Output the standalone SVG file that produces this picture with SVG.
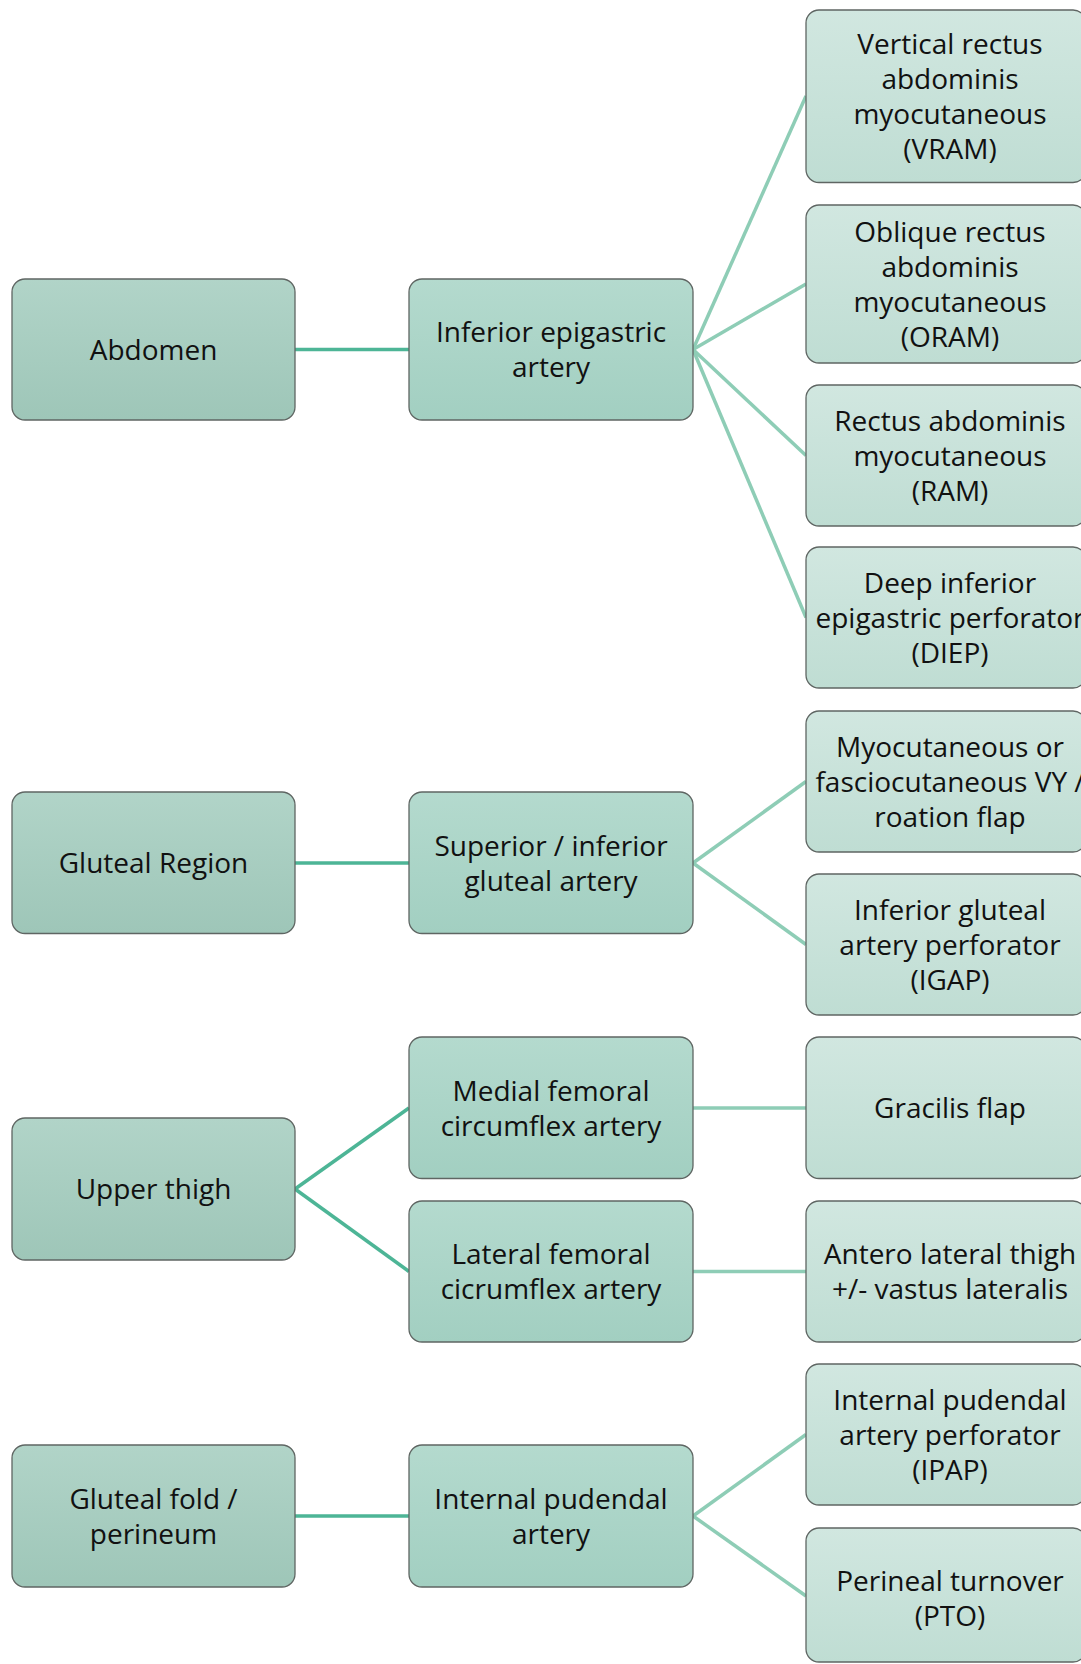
<svg xmlns="http://www.w3.org/2000/svg" width="1081" height="1664" viewBox="0 0 1081 1664">
<defs>
<linearGradient id="g1" x1="0" y1="0" x2="0" y2="1"><stop offset="0" stop-color="#b1d4c8"/><stop offset="1" stop-color="#9ec6b8"/></linearGradient>
<linearGradient id="g2" x1="0" y1="0" x2="0" y2="1"><stop offset="0" stop-color="#b4dace"/><stop offset="1" stop-color="#a2cfc1"/></linearGradient>
<linearGradient id="g3" x1="0" y1="0" x2="0" y2="1"><stop offset="0" stop-color="#d1e7e0"/><stop offset="1" stop-color="#bfddd3"/></linearGradient>
<style>
.b{stroke:#5f6663;stroke-width:1.3}
.c1{fill:url(#g1)}.c2{fill:url(#g2)}.c3{fill:url(#g3)}
text{font-family:"Open Sans","Liberation Sans",sans-serif;font-size:28px;fill:#111;text-anchor:middle}
.dk{stroke:#4db596;stroke-width:3.5;fill:none}
.lt{stroke:#8ecdb6;stroke-width:3.5;fill:none}
</style>
</defs>
<rect width="1081" height="1664" fill="#fff"/>
<g id="connectors">
<line class="dk" x1="295" y1="349.5" x2="409" y2="349.5"/>
<line class="dk" x1="295" y1="863" x2="409" y2="863"/>
<line class="dk" x1="295" y1="1189" x2="409" y2="1108"/>
<line class="dk" x1="295" y1="1189" x2="409" y2="1271.5"/>
<line class="dk" x1="295" y1="1516" x2="409" y2="1516"/>
<line class="lt" x1="693" y1="349.5" x2="806" y2="96"/>
<line class="lt" x1="693" y1="349.5" x2="806" y2="284"/>
<line class="lt" x1="693" y1="349.5" x2="806" y2="455.5"/>
<line class="lt" x1="693" y1="349.5" x2="806" y2="617.5"/>
<line class="lt" x1="693" y1="863" x2="806" y2="781.5"/>
<line class="lt" x1="693" y1="863" x2="806" y2="944.5"/>
<line class="lt" x1="693" y1="1108" x2="806" y2="1108"/>
<line class="lt" x1="693" y1="1271.5" x2="806" y2="1271.5"/>
<line class="lt" x1="693" y1="1516" x2="806" y2="1434.5"/>
<line class="lt" x1="693" y1="1516" x2="806" y2="1596"/>
</g>
<g id="abdomen"><rect class="b c1" x="12" y="279" width="283" height="141" rx="13"/><text x="153.5" y="359.5">Abdomen</text></g>
<g id="gluteal-region"><rect class="b c1" x="12" y="792" width="283" height="141.5" rx="13"/><text x="153.5" y="873">Gluteal Region</text></g>
<g id="upper-thigh"><rect class="b c1" x="12" y="1118" width="283" height="142" rx="13"/><text x="153.5" y="1199">Upper thigh</text></g>
<g id="gluteal-fold"><rect class="b c1" x="12" y="1445" width="283" height="142" rx="13"/><text x="153.5" y="1508.5">Gluteal fold /</text><text x="153.5" y="1543.5">perineum</text></g>
<g id="inferior-epigastric"><rect class="b c2" x="409" y="279" width="284" height="141" rx="13"/><text x="551" y="342">Inferior epigastric</text><text x="551" y="377">artery</text></g>
<g id="superior-inferior-gluteal"><rect class="b c2" x="409" y="792" width="284" height="141.5" rx="13"/><text x="551" y="855.5">Superior / inferior</text><text x="551" y="890.5">gluteal artery</text></g>
<g id="medial-femoral"><rect class="b c2" x="409" y="1037" width="284" height="141.5" rx="13"/><text x="551" y="1100.5">Medial femoral</text><text x="551" y="1135.5">circumflex artery</text></g>
<g id="lateral-femoral"><rect class="b c2" x="409" y="1201" width="284" height="141" rx="13"/><text x="551" y="1264">Lateral femoral</text><text x="551" y="1299">cicrumflex artery</text></g>
<g id="internal-pudendal"><rect class="b c2" x="409" y="1445" width="284" height="142" rx="13"/><text x="551" y="1508.5">Internal pudendal</text><text x="551" y="1543.5">artery</text></g>
<g id="vram"><rect class="b c3" x="806" y="10" width="280" height="172.5" rx="13"/><text x="950" y="53.5">Vertical rectus</text><text x="950" y="88.5">abdominis</text><text x="950" y="123.5">myocutaneous</text><text x="950" y="158.5">(VRAM)</text></g>
<g id="oram"><rect class="b c3" x="806" y="205" width="280" height="158" rx="13"/><text x="950" y="241.5">Oblique rectus</text><text x="950" y="276.5">abdominis</text><text x="950" y="311.5">myocutaneous</text><text x="950" y="346.5">(ORAM)</text></g>
<g id="ram"><rect class="b c3" x="806" y="385" width="280" height="141" rx="13"/><text x="950" y="430.5">Rectus abdominis</text><text x="950" y="465.5">myocutaneous</text><text x="950" y="500.5">(RAM)</text></g>
<g id="diep"><rect class="b c3" x="806" y="547" width="280" height="141" rx="13"/><text x="950" y="592.5">Deep inferior</text><text x="950" y="627.5">epigastric perforator</text><text x="950" y="662.5">(DIEP)</text></g>
<g id="vy-flap"><rect class="b c3" x="806" y="711" width="280" height="141" rx="13"/><text x="950" y="756.5">Myocutaneous or</text><text x="950" y="791.5">fasciocutaneous VY /</text><text x="950" y="826.5">roation flap</text></g>
<g id="igap"><rect class="b c3" x="806" y="874" width="280" height="141" rx="13"/><text x="950" y="919.5">Inferior gluteal</text><text x="950" y="954.5">artery perforator</text><text x="950" y="989.5">(IGAP)</text></g>
<g id="gracilis"><rect class="b c3" x="806" y="1037" width="280" height="141.5" rx="13"/><text x="950" y="1118">Gracilis flap</text></g>
<g id="alt"><rect class="b c3" x="806" y="1201" width="280" height="141" rx="13"/><text x="950" y="1264">Antero lateral thigh</text><text x="950" y="1299">+/- vastus lateralis</text></g>
<g id="ipap"><rect class="b c3" x="806" y="1364" width="280" height="141" rx="13"/><text x="950" y="1409.5">Internal pudendal</text><text x="950" y="1444.5">artery perforator</text><text x="950" y="1479.5">(IPAP)</text></g>
<g id="pto"><rect class="b c3" x="806" y="1528" width="280" height="134" rx="13"/><text x="950" y="1590.5">Perineal turnover</text><text x="950" y="1625.5">(PTO)</text></g>
</svg>
